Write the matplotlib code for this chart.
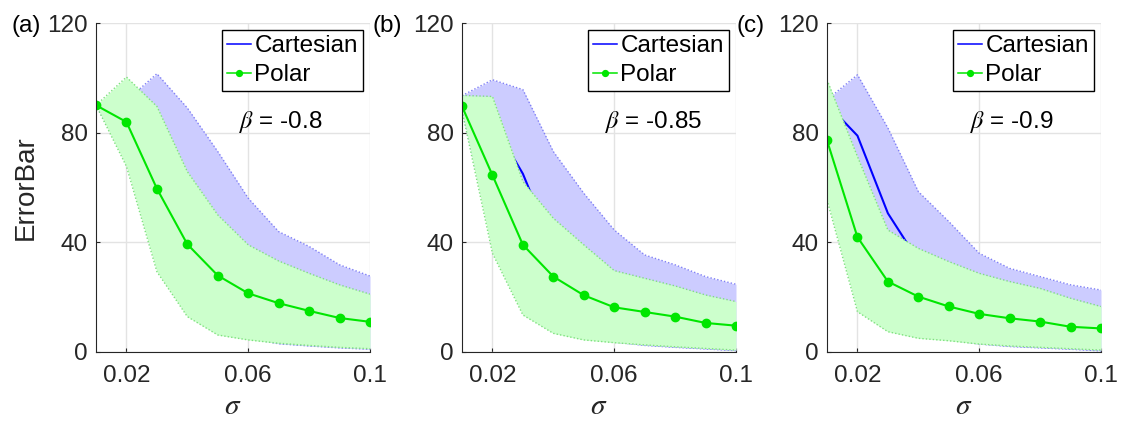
import numpy as np
import matplotlib
matplotlib.use("Agg")
import matplotlib.pyplot as plt

plt.rcParams['font.family'] = ['Liberation Sans', 'DejaVu Sans']
plt.rcParams['mathtext.fontset'] = 'stix'

sigma = [0.01, 0.02, 0.03, 0.04, 0.05, 0.06, 0.07, 0.08, 0.09, 0.1]
panel_tags = ['(a)', '(b)', '(c)']
beta_labels = ['-0.8', '-0.85', '-0.9']

# Cartesian: mean, upper and lower bound of the shaded band
cart_mean_a = [90, 89, 76, 56, 42, 30, 24, 20, 16, 14]
cart_up_a = [90, 91.7, 101.5, 89.0, 73.1, 56.1, 43.9, 38.5, 31.8, 27.7]
cart_lo_a = [90, 70, 32, 15, 7.5, 5, 3.0, 2.2, 1.5, 1.0]

cart_mean_b = [90, 84, 65, 38, 30, 23, 19, 16, 14, 12.5]
cart_up_b = [93.5, 99.3, 95.7, 73.1, 57.9, 44.5, 35.4, 31.8, 27.5, 24.7]
cart_lo_b = [89, 40, 16, 8, 5, 3.6, 2.4, 1.7, 1.1, 0.5]

cart_mean_c = [90.5, 78.9, 50.6, 33.3, 25, 20, 17, 15, 13, 12]
cart_up_c = [92, 101.1, 81.7, 58.5, 47.6, 36.0, 30.5, 27.5, 24.5, 22.6]
cart_lo_c = [58, 17, 9, 6, 4.5, 2.9, 2.0, 1.5, 1.0, 0.4]

# Polar: mean, upper and lower bound
polar_mean_a = [90, 83.9, 59.6, 39.3, 27.9, 21.4, 17.8, 15.0, 12.4, 11.0]
polar_up_a = [90, 100.3, 89.6, 65.8, 50.0, 39.1, 33.2, 28.7, 24.5, 21.1]
polar_lo_a = [90, 67.7, 29.3, 12.9, 6.2, 4.4, 3.2, 2.4, 1.7, 1.2]

polar_mean_b = [89.6, 64.5, 39.1, 27.5, 20.7, 16.3, 14.6, 12.9, 10.6, 9.6]
polar_up_b = [93.6, 93.2, 62.2, 48.8, 39.1, 29.7, 26.9, 24.1, 20.8, 18.4]
polar_lo_b = [88, 36.0, 13.5, 6.8, 4.4, 3.4, 2.6, 1.9, 1.3, 0.7]

polar_mean_c = [77.2, 41.9, 25.7, 20.2, 16.6, 13.9, 12.3, 11.1, 9.2, 8.6]
polar_up_c = [99.3, 71.3, 44.5, 37.8, 33.0, 28.7, 25.7, 23.2, 19.6, 16.6]
polar_lo_c = [55.5, 14.7, 7.4, 5.0, 4.1, 2.9, 2.2, 1.7, 1.2, 0.7]

cart = [(cart_mean_a, cart_up_a, cart_lo_a),
        (cart_mean_b, cart_up_b, cart_lo_b),
        (cart_mean_c, cart_up_c, cart_lo_c)]
polar = [(polar_mean_a, polar_up_a, polar_lo_a),
         (polar_mean_b, polar_up_b, polar_lo_b),
         (polar_mean_c, polar_up_c, polar_lo_c)]

W, H = 1121, 421
fig = plt.figure(figsize=(W / 100, H / 100), dpi=100)

lefts = [96, 462, 827]
tag_x = [12, 372, 737]
ax_w, ax_top, ax_bot = 274, 23, 352
fs = 17.5
dot = (0, (1, 1.5))
dark = '#262626'

for i in range(3):
    ax = fig.add_axes([lefts[i] / W, 1 - ax_bot / H, ax_w / W, (ax_bot - ax_top) / H])
    cm, cu, cl = cart[i]
    pm, pu, pl = polar[i]

    ax.fill_between(sigma, cl, cu, color='#ccccff', lw=0, zorder=2)
    ax.plot(sigma, cu, color='#7f7ff5', ls=dot, lw=1, zorder=2)
    ax.plot(sigma, cl, color='#7f7ff5', ls=dot, lw=1, zorder=2)
    ax.plot(sigma, cm, color='#0000ff', lw=1.5, label='Cartesian', zorder=3)

    ax.fill_between(sigma, pl, pu, color='#ccffcc', lw=0, zorder=4)
    ax.plot(sigma, pu, color='#80e080', ls=dot, lw=1, zorder=4)
    ax.plot(sigma, pl, color='#80e080', ls=dot, lw=1, zorder=4)
    ax.plot(sigma, pm, color='#00e600', lw=1.5, marker='o', ms=6,
            label='Polar', zorder=5)

    ax.set_xlim(0.01, 0.1)
    ax.set_ylim(0, 120)
    ax.set_xticks([0.02, 0.06, 0.1])
    ax.set_xticklabels(['0.02', '0.06', '0.1'])
    ax.set_yticks([0, 40, 80, 120])
    ax.tick_params(direction='in', length=3, width=0.8, labelsize=fs,
                   colors=dark)
    ax.tick_params(axis='x', pad=9)
    ax.tick_params(axis='y', pad=6)
    ax.spines['top'].set_visible(False)
    ax.spines['right'].set_visible(False)
    for s in ['left', 'bottom']:
        ax.spines[s].set_color(dark)
        ax.spines[s].set_linewidth(0.8)
        ax.spines[s].set_zorder(6)
    ax.grid(True, color='#e3e3e3', lw=1)
    ax.set_axisbelow(True)

    ax.set_xlabel(r'$\sigma$', fontsize=21, labelpad=4, color=dark)
    if i == 0:
        ax.set_ylabel('ErrorBar', fontsize=20, labelpad=6, color=dark)

    ax.text(0.057, 84, r'$\beta$ = ' + beta_labels[i], fontsize=fs,
            va='center', ha='left', zorder=7)

    leg = ax.legend(loc='upper right', fontsize=fs, fancybox=False,
                    edgecolor='black', framealpha=1, borderaxespad=0.3,
                    handlelength=1.0, handletextpad=0.12, borderpad=0.2,
                    labelspacing=0.3, markerscale=0.7)
    leg.get_frame().set_linewidth(1)
    leg.set_zorder(8)
    for ln in leg.get_lines():
        ln.set_linewidth(1.1)

    fig.text(tag_x[i] / W, 1 - 26 / H, panel_tags[i], fontsize=fs,
             va='center', ha='left')

fig.savefig('out.png', dpi=100)
